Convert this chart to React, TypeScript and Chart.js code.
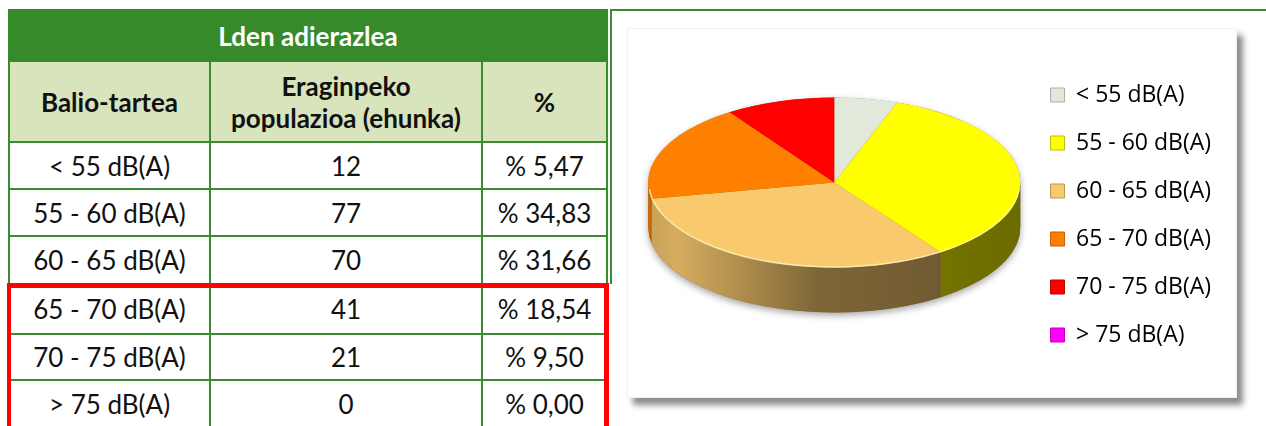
import React, { useEffect, useRef } from "react";
import { Chart, registerables } from "chart.js";

Chart.register(...registerables);

// ---------- data ----------
const tableTitle = "Lden adierazlea";
const columnHeaders = ["Balio-tartea", "Eraginpeko\npopulazioa (ehunka)", "%"];
const categories = ["< 55 dB(A)", "55 - 60 dB(A)", "60 - 65 dB(A)", "65 - 70 dB(A)", "70 - 75 dB(A)", "> 75 dB(A)"];
const population = [12, 77, 70, 41, 21, 0];
const percentLabels = ["% 5,47", "% 34,83", "% 31,66", "% 18,54", "% 9,50", "% 0,00"];
const percentValues = [5.47, 34.83, 31.66, 18.54, 9.5, 0];
const sliceColors = ["#e3e9da", "#ffff00", "#f9c96e", "#ff8000", "#ff0000", "#ff00ff"];

// ---------- styling / layout ----------
const LINE = "#3b8c30";
const TITLE_BG = "#368a2a";
const SUB_BG = "#d8e4bc";
const colX = [8, 211, 483, 608];
const rowY = [143, 190, 237, 285, 335, 381, 428];

const TILT = 0.457;
const DEPTH = 45;
const LIFT = 10;

function rgbOf(hex: string) {
  const n = parseInt(hex.slice(1), 16);
  return [(n >> 16) & 255, (n >> 8) & 255, n & 255];
}
function shade(hex: string, f: number) {
  const [r, g, b] = rgbOf(hex);
  return `rgb(${Math.round(r * f)},${Math.round(g * f)},${Math.round(b * f)})`;
}

const pie3d = {
  id: "pie3d",
  beforeDatasetsDraw(chart: any) {
    const meta = chart.getDatasetMeta(0);
    const arcs = meta.data;
    if (!arcs || !arcs.length) return;
    const ctx = chart.ctx as CanvasRenderingContext2D;
    const a0 = arcs[0];
    const cx = a0.x, cy0 = a0.y, r = a0.outerRadius;
    const cy = cy0 - DEPTH / 2 - LIFT;
    const ry = r * TILT;
    const colors = chart.data.datasets[0].backgroundColor as string[];

    // soft shadow of the disc
    ctx.save();
    ctx.shadowColor = "rgba(0,0,0,0.35)";
    ctx.shadowBlur = 7;
    ctx.shadowOffsetY = 3;
    ctx.beginPath();
    ctx.ellipse(cx, cy + DEPTH, r, ry, 0, 0, Math.PI, false);
    ctx.lineTo(cx - r, cy);
    ctx.ellipse(cx, cy, r, ry, 0, Math.PI, 2 * Math.PI, false);
    ctx.closePath();
    ctx.fillStyle = "#8a7040";
    ctx.fill();
    ctx.restore();

    // side walls
    arcs.forEach((arc: any, i: number) => {
      const s = Math.max(arc.startAngle, 0);
      const e = Math.min(arc.endAngle, Math.PI);
      if (e <= s) return;
      const col = colors[i];
      const g = ctx.createLinearGradient(cx - r, 0, cx + r, 0);
      g.addColorStop(0, shade(col, 0.8));
      g.addColorStop(0.08, shade(col, 0.86));
      g.addColorStop(0.46, shade(col, 0.5));
      g.addColorStop(1, shade(col, 0.42));
      ctx.beginPath();
      ctx.ellipse(cx, cy, r, ry, 0, s, e, false);
      ctx.lineTo(cx + r * Math.cos(e), cy + DEPTH + ry * Math.sin(e));
      ctx.ellipse(cx, cy + DEPTH, r, ry, 0, e, s, true);
      ctx.closePath();
      ctx.fillStyle = g;
      ctx.fill();
    });

    ctx.save();
    ctx.translate(cx, cy);
    ctx.scale(1, TILT);
    ctx.translate(-cx, -cy0);
    chart.$pie3d = { cx, cy, r, ry };
  },
  afterDatasetsDraw(chart: any) {
    const st = chart.$pie3d;
    if (!st) return;
    const ctx = chart.ctx as CanvasRenderingContext2D;
    ctx.restore();
    ctx.save();
    ctx.beginPath();
    ctx.ellipse(st.cx, st.cy, st.r - 0.5, st.ry - 0.5, 0, 0.08, Math.PI - 0.08, false);
    ctx.strokeStyle = "rgba(255,255,215,0.65)";
    ctx.lineWidth = 1.5;
    ctx.stroke();
    ctx.restore();
  },
};

function PieChart() {
  const ref = useRef<HTMLCanvasElement>(null);
  useEffect(() => {
    if (!ref.current) return;
    const base: any = (Chart as any).overrides.doughnut.plugins.legend.labels.generateLabels;
    const chart = new Chart(ref.current, {
      type: "pie",
      data: {
        labels: categories,
        datasets: [
          {
            data: percentValues,
            backgroundColor: sliceColors,
            borderWidth: 0,
            radius: 186,
            clip: false,
          } as any,
        ],
      },
      options: {
        responsive: false,
        animation: false,
        events: [],
        layout: { padding: { left: 16, right: 16, top: 4, bottom: 0 } },
        plugins: {
          tooltip: { enabled: false },
          legend: {
            position: "right",
            align: "center",
            labels: {
              boxWidth: 14,
              boxHeight: 14,
              padding: 25,
              color: "#000",
              font: { family: "'Open Sans'", size: 23 },
              generateLabels: (c: any) =>
                base(c).map((it: any, i: number) => ({
                  ...it,
                  strokeStyle: shade(sliceColors[i], 0.75),
                  lineWidth: 1,
                })),
            },
          },
        },
      } as any,
      plugins: [pie3d as any],
    });
    return () => chart.destroy();
  }, []);
  return (
    <canvas
      ref={ref}
      width={610}
      height={370}
      style={{ position: "absolute", left: 627, top: 28, width: 610, height: 370 }}
    />
  );
}

function Cell(props: { x: number; y: number; w: number; h: number; first?: boolean; bg?: string; bold?: boolean; children?: any }) {
  const { x, y, w, h, first, bg, bold, children } = props;
  return (
    <div
      style={{
        position: "absolute",
        left: x,
        top: y,
        width: w,
        height: h,
        boxSizing: "border-box",
        borderRight: `2px solid ${LINE}`,
        borderBottom: `2px solid ${LINE}`,
        borderLeft: first ? `2px solid ${LINE}` : undefined,
        background: bg || "#fff",
        display: "flex",
        alignItems: "center",
        justifyContent: "center",
        textAlign: "center",
        fontFamily: "Lato, sans-serif",
        fontSize: 26,
        fontWeight: bold ? 700 : 400,
        lineHeight: "32px",
        color: "#111",
        whiteSpace: "pre",
      }}
    >
      {children}
    </div>
  );
}

export default function App() {
  const rows = categories.map((c, i) => [c, String(population[i]), percentLabels[i]]);
  return (
    <div style={{ position: "fixed", left: 0, top: 0, width: 1266, height: 426, background: "#fff", overflow: "hidden" }}>
      {/* title bar */}
      <div
        style={{
          position: "absolute",
          left: 8,
          top: 9,
          width: 600,
          height: 53,
          background: TITLE_BG,
          color: "#fff",
          fontFamily: "Lato, sans-serif",
          fontWeight: 700,
          fontSize: 26,
          display: "flex",
          alignItems: "center",
          justifyContent: "center",
        }}
      >
        {tableTitle}
      </div>
      {/* header row */}
      {columnHeaders.map((h, j) => (
        <Cell key={"h" + j} x={colX[j]} y={62} w={colX[j + 1] - colX[j]} h={rowY[0] - 62} first={j === 0} bg={SUB_BG} bold>
          {h}
        </Cell>
      ))}
      {/* data rows */}
      {rows.map((row, i) =>
        row.map((v, j) => (
          <Cell key={i + "-" + j} x={colX[j]} y={rowY[i]} w={colX[j + 1] - colX[j]} h={rowY[i + 1] - rowY[i]} first={j === 0}>
            {v}
          </Cell>
        ))
      )}
      {/* red highlight box */}
      <div
        style={{
          position: "absolute",
          left: 7,
          top: 283,
          width: 602,
          height: 200,
          boxSizing: "border-box",
          borderTop: "5px solid #ff0000",
          borderLeft: "4px solid #ff0000",
          borderRight: "5px solid #ff0000",
        }}
      />
      {/* outer green lines */}
      <div style={{ position: "absolute", left: 610, top: 9, width: 2, height: 275, background: LINE }} />
      <div style={{ position: "absolute", left: 610, top: 9, width: 656, height: 2, background: LINE }} />
      {/* chart panel */}
      <div
        style={{
          position: "absolute",
          left: 627,
          top: 28,
          width: 610,
          height: 370,
          background: "#fff",
          boxSizing: "border-box",
          border: "1px solid #f2f2f2",
          boxShadow: "6px 7px 6px rgba(0,0,0,0.45)",
        }}
      />
      <PieChart />
    </div>
  );
}
